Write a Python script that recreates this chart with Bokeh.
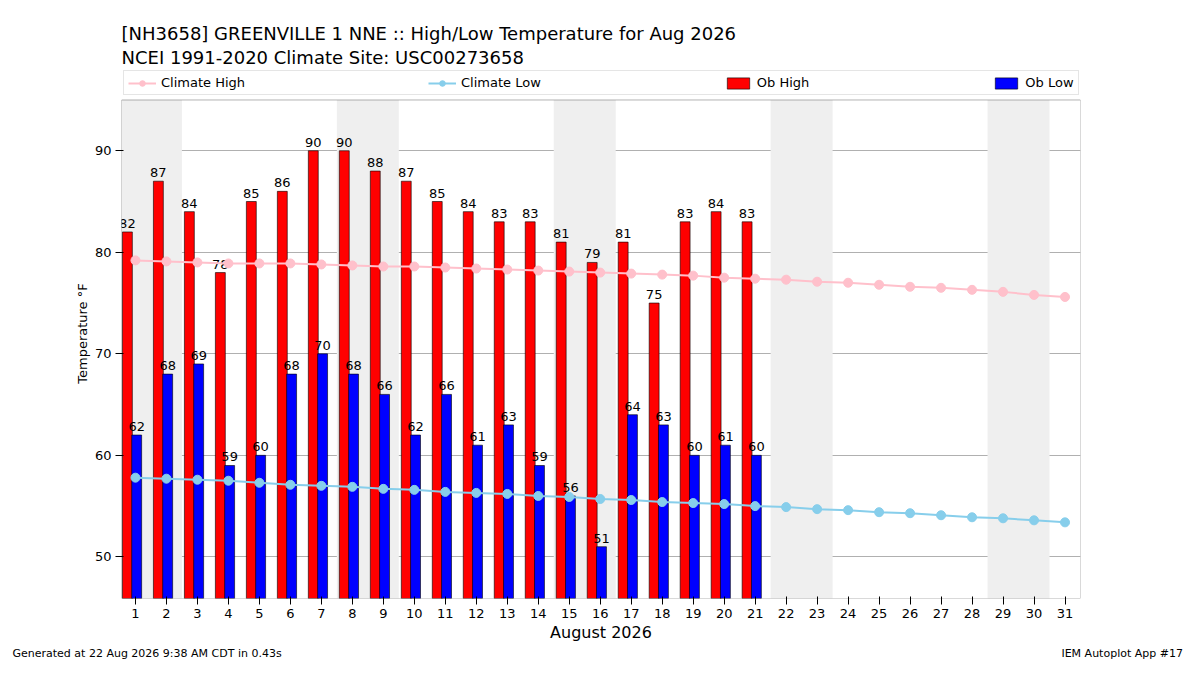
from bokeh.plotting import figure
from bokeh.models import Range1d, BoxAnnotation, Legend, LegendItem, ColumnDataSource, SingleIntervalTicker, Title
from bokeh.core.properties import value
from bokeh.embed import file_html
from bokeh.resources import INLINE

days = list(range(1, 32))
ob_high = [82,87,84,78,85,86,90,90,88,87,85,84,83,83,81,79,81,75,83,84,83]
ob_low = [62,68,69,59,60,68,70,68,66,62,66,61,63,59,56,51,64,63,60,61,60]
clim_high = [79.2,79.1,79.0,78.9,78.9,78.9,78.8,78.7,78.6,78.6,78.5,78.4,78.3,78.2,78.1,78.0,77.9,77.8,77.7,77.5,77.4,77.3,77.1,77.0,76.8,76.6,76.5,76.3,76.1,75.8,75.6]
clim_low = [57.8,57.7,57.6,57.5,57.3,57.1,57.0,56.9,56.7,56.6,56.4,56.3,56.2,56.0,55.9,55.7,55.6,55.4,55.3,55.2,55.0,54.9,54.7,54.6,54.4,54.3,54.1,53.9,53.8,53.6,53.4]
weekends = [1, 8, 15, 22, 29]
footer_left = "Generated at 22 Aug 2026 9:38 AM CDT in 0.43s"
footer_right = "IEM Autoplot App #17"

F = "DejaVu Sans"
YMIN, YMAX, XMIN, XMAX = 45.9, 95.0, 0.55, 31.5
p = figure(width=1184, height=659, output_backend="svg", toolbar_location=None,
           x_range=Range1d(XMIN, XMAX), y_range=Range1d(YMIN, 98.1),
           min_border_left=121, min_border_right=104, min_border_top=68, min_border_bottom=40)
p.xgrid.grid_line_color = None
p.ygrid.grid_line_color = "#b0b0b0"
p.outline_line_color = None
p.yaxis.axis_line_color = None
p.xaxis.axis_line_color = None
p.xaxis.ticker = SingleIntervalTicker(interval=1)
p.yaxis.ticker = SingleIntervalTicker(interval=10)
p.xaxis.minor_tick_line_color = None
p.yaxis.minor_tick_line_color = None
p.xaxis.axis_label = "August 2026"
p.yaxis.axis_label = "Temperature °F"
for ax in (p.xaxis[0], p.yaxis[0]):
    ax.major_label_text_font = F
    ax.major_label_text_font_size = "13px"
    ax.axis_label_text_font = F
    ax.axis_label_text_font_style = "normal"
    ax.major_label_text_color = "black"
    ax.axis_label_text_color = "black"
    ax.axis_label_standoff = 2
    ax.major_label_standoff = 4
p.xaxis.axis_label_text_font_size = "16px"
p.yaxis.axis_label_text_font_size = "13px"

for w in weekends:
    p.add_layout(BoxAnnotation(left=w - 0.5, right=w + 1.5, bottom=YMIN, top=YMAX, fill_color="#efefef",
                               fill_alpha=1, level="underlay", line_color=None))

n = len(ob_high)
src = ColumnDataSource(dict(xh=[d - 0.26 for d in days[:n]], xl=[d + 0.04 for d in days[:n]],
                            hi=ob_high, lo=ob_low, ths=[str(v) for v in ob_high], tls=[str(v) for v in ob_low]))
rh = p.vbar(x="xh", top="hi", bottom=0, width=0.32, source=src, fill_color="red", line_color="black", line_width=0.6)
rl = p.vbar(x="xl", top="lo", bottom=0, width=0.32, source=src, fill_color="blue", line_color="black", line_width=0.6)
p.text(x="xh", y="hi", text="ths", source=src, text_align="center", text_baseline="bottom", y_offset=-4,
       text_font=value(F), text_font_size="13px")
p.text(x="xl", y="lo", text="tls", source=src, text_align="center", text_baseline="bottom", y_offset=-4,
       text_font=value(F), text_font_size="13px")
ch = p.line(days, clim_high, color="pink", line_width=2)
chs = p.scatter(days, clim_high, color="pink", size=9)
cl = p.line(days, clim_low, color="skyblue", line_width=2)
cls = p.scatter(days, clim_low, color="skyblue", size=9)

p.add_layout(BoxAnnotation(left=XMIN, right=XMAX, bottom=YMAX, top=None, fill_color="white", fill_alpha=1,
                           line_color=None, level="overlay"))
p.add_layout(BoxAnnotation(left=XMIN, right=XMAX, bottom=YMIN, top=YMAX, fill_alpha=0,
                           line_color="black", line_width=1, level="overlay"))

legend = Legend(items=[LegendItem(label="Climate High", renderers=[ch, chs]),
                       LegendItem(label="Climate Low", renderers=[cl, cls]),
                       LegendItem(label="Ob High", renderers=[rh]),
                       LegendItem(label="Ob Low", renderers=[rl])],
                orientation="horizontal", spacing=183, label_text_font=F, label_text_font_size="13px",
                label_text_color="black", location="top_left", margin=2,
                border_line_color="#cccccc", padding=4, glyph_width=28, glyph_height=14)
p.add_layout(legend, "center")

p.add_layout(Title(text="NCEI 1991-2020 Climate Site: USC00273658", text_font=F, text_font_size="18px",
                   text_font_style="normal", text_color="black", standoff=2), "above")
p.add_layout(Title(text="[NH3658] GREENVILLE 1 NNE :: High/Low Temperature for Aug 2026", text_font=F,
                   text_font_size="18px", text_font_style="normal", text_color="black", standoff=0), "above")
footer = footer_left + "\u00a0" * 223 + footer_right
p.add_layout(Title(text=footer, text_font=F, text_font_size="11px", offset=-109,
                   text_font_style="normal", text_color="black", standoff=0), "below")

open("out.html", "w").write(file_html(p, INLINE))
